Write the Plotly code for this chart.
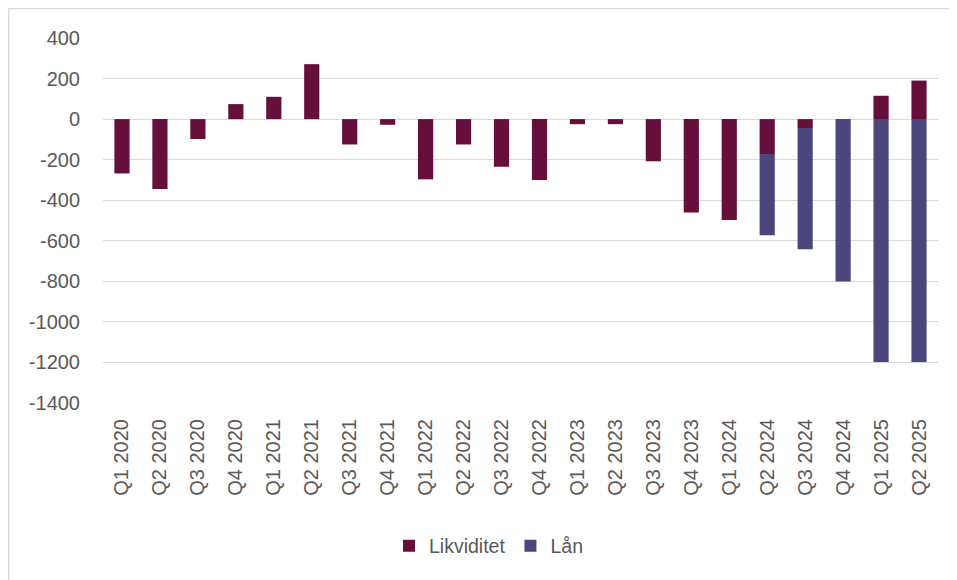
import plotly.graph_objects as go

quarters = ["Q1 2020", "Q2 2020", "Q3 2020", "Q4 2020", "Q1 2021", "Q2 2021",
            "Q3 2021", "Q4 2021", "Q1 2022", "Q2 2022", "Q3 2022", "Q4 2022",
            "Q1 2023", "Q2 2023", "Q3 2023", "Q4 2023", "Q1 2024", "Q2 2024",
            "Q3 2024", "Q4 2024", "Q1 2025", "Q2 2025"]
likviditet = [-268, -345, -98, 74, 110, 271, -125, -28, -297, -125, -235, -300,
              -25, -25, -208, -460, -497, -172, -44, 0, 115, 190]
laan = [0, 0, 0, 0, 0, 0, 0, 0, 0, 0, 0, 0,
        0, 0, 0, 0, 0, -401, -598, -801, -1198, -1198]
y_ticks = [400, 200, 0, -200, -400, -600, -800, -1000, -1200, -1400]

# page body has an 8px margin, so figure coords = screen coords - 8
OFF = 8
W, H = 957, 580
L = 103 - OFF
T = 38 - OFF
R = W - (938 - OFF)
B = H - (403 - OFF)
pw = W - L - R
ph = H - T - B

def px_x(p):
    return (p - OFF - L) / pw

def px_y(p):
    return (H - B - (p - OFF)) / ph

font = "Liberation Sans, Arial, sans-serif"
grey = "#595959"

fig = go.Figure()
fig.add_trace(go.Bar(x=quarters, y=likviditet, name="Likviditet",
                     marker=dict(color="#660F3A", line=dict(width=0))))
fig.add_trace(go.Bar(x=quarters, y=laan, name="Lån",
                     marker=dict(color="#4B467C", line=dict(width=0))))

fig.update_layout(
    width=W, height=H,
    margin=dict(l=L, r=R, t=T, b=B, pad=0),
    barmode="relative",
    bargap=0.6,
    plot_bgcolor="white",
    paper_bgcolor="white",
    font=dict(family=font, size=20, color=grey),
    showlegend=True,
    legend=dict(orientation="h", x=px_x(389), xanchor="left",
                y=px_y(546), yanchor="middle",
                font=dict(family=font, size=19.5, color=grey),
                itemwidth=30, traceorder="normal"),
    xaxis=dict(tickangle=-90, showgrid=False, zeroline=False, showline=False,
               ticks="", tickfont=dict(family=font, size=20, color=grey),
               ticklabelstandoff=11),
    yaxis=dict(range=[-1400, 400], tickvals=y_ticks,
               ticktext=[str(v) for v in y_ticks],
               showgrid=True, gridcolor="#D9D9D9", gridwidth=1.3,
               zeroline=True, zerolinecolor="#D9D9D9", zerolinewidth=1.3,
               showline=False, ticks="",
               tickfont=dict(family=font, size=20, color=grey),
               ticklabelstandoff=22),
    shapes=[
        dict(type="line", xref="paper", yref="paper",
             x0=px_x(8.5), x1=px_x(W + 20), y0=px_y(8.7), y1=px_y(8.7),
             line=dict(color="#D9D9D9", width=1.3)),
        dict(type="line", xref="paper", yref="paper",
             x0=px_x(8.7), x1=px_x(8.7), y0=px_y(8.7), y1=px_y(H + 20),
             line=dict(color="#D9D9D9", width=1.3)),
    ],
)

fig.write_html("out.html")
